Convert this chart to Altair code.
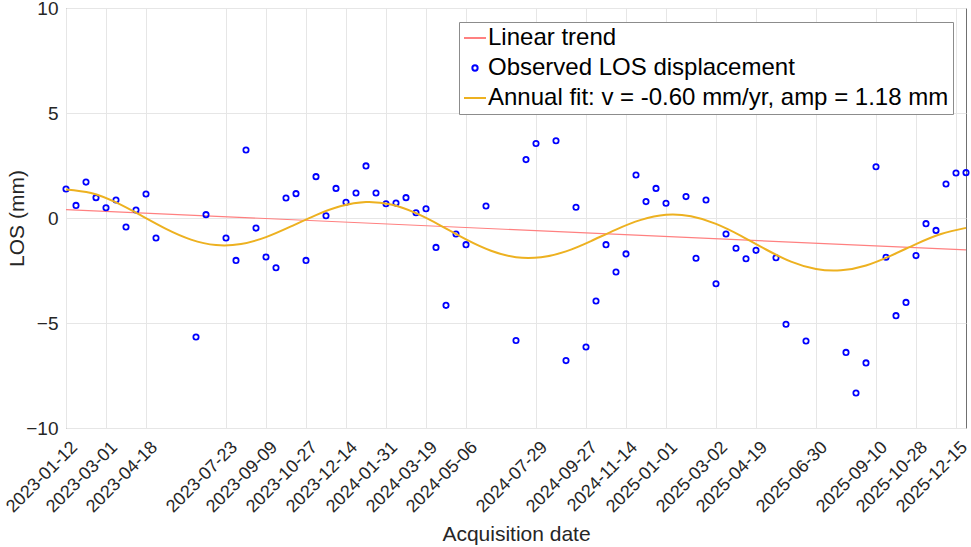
import altair as alt
import pandas as pd

# Observed LOS displacement (acquisition date, mm)
obs_dates = [
    "2023-01-12", "2023-01-24", "2023-02-05", "2023-02-17", "2023-03-01", "2023-03-13",
    "2023-03-25", "2023-04-06", "2023-04-18", "2023-04-30", "2023-06-17", "2023-06-29",
    "2023-07-23", "2023-08-04", "2023-08-16", "2023-08-28", "2023-09-09", "2023-09-21",
    "2023-10-03", "2023-10-15", "2023-10-27", "2023-11-08", "2023-11-20", "2023-12-02",
    "2023-12-14", "2023-12-26", "2024-01-07", "2024-01-19", "2024-01-31", "2024-02-12",
    "2024-02-24", "2024-03-07", "2024-03-19", "2024-03-31", "2024-04-12", "2024-04-24",
    "2024-05-06", "2024-05-30", "2024-07-05", "2024-07-17", "2024-07-29", "2024-08-22",
    "2024-09-03", "2024-09-15", "2024-09-27", "2024-10-09", "2024-10-21", "2024-11-02",
    "2024-11-14", "2024-11-26", "2024-12-08", "2024-12-20", "2025-01-01", "2025-01-25",
    "2025-02-06", "2025-02-18", "2025-03-02", "2025-03-14", "2025-03-26", "2025-04-07",
    "2025-04-19", "2025-05-13", "2025-05-25", "2025-06-18", "2025-08-05", "2025-08-17",
    "2025-08-29", "2025-09-10", "2025-09-22", "2025-10-04", "2025-10-16", "2025-10-28",
    "2025-11-09", "2025-11-21", "2025-12-03", "2025-12-15", "2025-12-27",
]
obs_values = [
    1.38, 0.60, 1.71, 0.97, 0.49, 0.86,
    -0.43, 0.38, 1.14, -0.95, -5.67, 0.16,
    -0.95, -2.02, 3.24, -0.48, -1.86, -2.37,
    0.95, 1.16, -2.02, 1.97, 0.11, 1.41,
    0.75, 1.19, 2.48, 1.19, 0.68, 0.71,
    0.97, 0.25, 0.44, -1.40, -4.16, -0.76,
    -1.27, 0.57, -5.83, 2.78, 3.55, 3.68,
    -6.79, 0.51, -6.14, -3.95, -1.27, -2.57,
    -1.71, 2.05, 0.78, 1.41, 0.70, 1.02,
    -1.92, 0.86, -3.13, -0.76, -1.44, -1.94,
    -1.54, -1.89, -5.06, -5.86, -6.40, -8.33,
    -6.90, 2.44, -1.87, -4.65, -4.02, -1.79,
    -0.27, -0.59, 1.62, 2.14, 2.16,
]

# Linear trend (end points)
trend_dates = ["2023-01-12", "2025-12-27"]
trend_values = [0.40, -1.52]

# Annual fit curve
fit_dates = [
    "2023-01-12", "2023-02-11", "2023-03-13", "2023-04-12", "2023-05-12", "2023-06-11",
    "2023-07-11", "2023-08-10", "2023-09-09", "2023-10-09", "2023-11-08", "2023-12-08",
    "2024-01-07", "2024-02-06", "2024-03-07", "2024-04-06", "2024-05-06", "2024-06-05",
    "2024-07-05", "2024-08-04", "2024-09-03", "2024-10-03", "2024-11-02", "2024-12-02",
    "2025-01-01", "2025-01-31", "2025-03-02", "2025-04-01", "2025-05-01", "2025-05-31",
    "2025-06-30", "2025-07-30", "2025-08-29", "2025-09-28", "2025-10-28", "2025-11-27",
    "2025-12-27",
]
fit_values = [
    1.36, 1.19, 0.74, 0.12, -0.52, -1.03,
    -1.29, -1.24, -0.91, -0.40, 0.14, 0.57,
    0.76, 0.64, 0.23, -0.37, -1.02, -1.56,
    -1.87, -1.87, -1.59, -1.10, -0.55, -0.09,
    0.15, 0.08, -0.28, -0.85, -1.50, -2.08,
    -2.43, -2.49, -2.26, -1.79, -1.24, -0.76,
    -0.47,
]

tick_dates = [
    (2023, 1, 12), (2023, 3, 1), (2023, 4, 18), (2023, 7, 23), (2023, 9, 9),
    (2023, 10, 27), (2023, 12, 14), (2024, 1, 31), (2024, 3, 19), (2024, 5, 6),
    (2024, 7, 29), (2024, 9, 27), (2024, 11, 14), (2025, 1, 1), (2025, 3, 2),
    (2025, 4, 19), (2025, 6, 30), (2025, 9, 10), (2025, 10, 28), (2025, 12, 15),
]

series_labels = [
    "Linear trend",
    "Observed LOS displacement",
    "Annual fit: v = -0.60 mm/yr, amp = 1.18 mm",
]
series_colors = ["#FF8080", "#0000FF", "#EDB120"]

FONT = "Liberation Sans"

obs_df = pd.DataFrame({"date": obs_dates, "los": obs_values, "series": series_labels[1]})
trend_df = pd.DataFrame({"date": trend_dates, "los": trend_values})
fit_df = pd.DataFrame({"date": fit_dates, "los": fit_values})

x_scale = alt.Scale(
    type="utc",
    domain=[alt.DateTime(year=2023, month=1, date=12, utc=True),
            alt.DateTime(year=2025, month=12, date=27, utc=True)],
    nice=False,
)
y_scale = alt.Scale(domain=[-10, 10], nice=False)

x_axis = alt.Axis(
    title="Acquisition date",
    values=[alt.DateTime(year=y, month=m, date=d, utc=True) for (y, m, d) in tick_dates],
    format="%Y-%m-%d",
    labelAngle=-45,
    labelAlign="right",
    labelBaseline="top",
    labelOverlap=False,
    labelBound=False,
    labelFlush=False,
    labelFontSize=18,
    labelPadding=10,
    labelOffset=2,
    titlePadding=8,
)
y_axis = alt.Axis(
    title="LOS (mm)",
    values=[-10, -5, 0, 5, 10],
    labelPadding=8,
    titlePadding=-2,
)

X = alt.X("date:T", scale=x_scale, axis=x_axis)
Y = alt.Y("los:Q", scale=y_scale, axis=y_axis)

trend = alt.Chart(trend_df).mark_line(color="#FF8080", strokeWidth=1.2).encode(x=X, y=Y)

points = alt.Chart(obs_df).mark_point(filled=False, strokeWidth=1.8, opacity=1).encode(
    x=X,
    y=Y,
    color=alt.Color(
        "series:N",
        scale=alt.Scale(domain=series_labels, range=series_colors),
        legend=alt.Legend(
            title=None,
            orient="none",
            legendX=393,
            legendY=14,
            labelFontSize=24,
            labelFont=FONT,
            labelColor="#000000",
            labelLimit=0,
            labelOffset=1,
            symbolStrokeWidth=2,
            rowPadding=6,
            padding=4,
            strokeColor="#8c8c8c",
            fillColor="#ffffff",
            cornerRadius=0,
        ),
    ),
    shape=alt.Shape(
        "series:N",
        scale=alt.Scale(domain=series_labels, range=["stroke", "circle", "stroke"]),
        legend=alt.Legend(title=None),
    ),
    size=alt.Size(
        "series:N",
        scale=alt.Scale(type="ordinal", domain=series_labels, range=[484, 28, 484]),
        legend=alt.Legend(title=None),
    ),
)

fit = alt.Chart(fit_df).mark_line(color="#EDB120", strokeWidth=2, interpolate="natural").encode(x=X, y=Y)

chart = (
    alt.layer(trend, points, fit)
    .properties(
        width=900,
        height=420,
        autosize=alt.AutoSizeParams(type="none"),
        padding={"left": 66, "top": 8, "right": 5, "bottom": 119},
        background="#ffffff",
    )
    .configure_view(stroke="#707070", strokeWidth=1)
    .configure_axis(
        labelFont=FONT,
        titleFont=FONT,
        labelFontSize=19,
        titleFontSize=21,
        titleFontWeight="normal",
        labelColor="#262626",
        titleColor="#262626",
        grid=True,
        gridColor="#e6e6e6",
        gridWidth=1,
        domain=False,
        ticks=False,
        tickSize=0,
    )
)

chart.save("out.html", embed_options={"renderer": "svg", "actions": False})
